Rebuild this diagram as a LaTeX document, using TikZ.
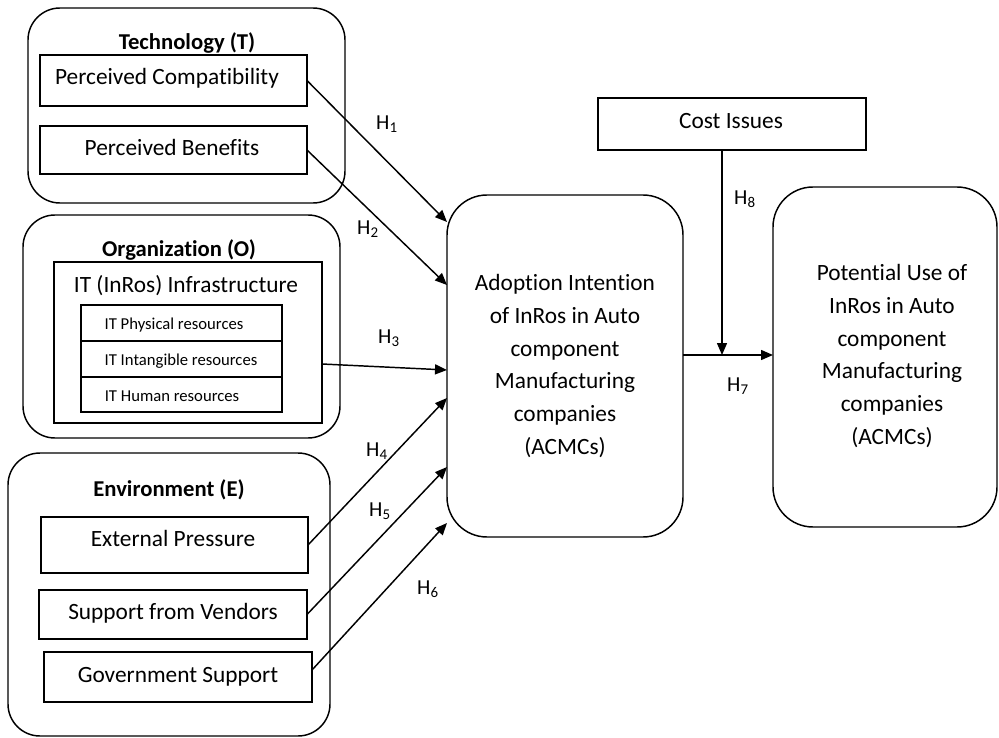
\documentclass[tikz,border=0pt]{standalone}
\usepackage{fontspec}
\setmainfont{Carlito}[Ligatures=NoCommon]
\usetikzlibrary{arrows.meta,fit}
\tikzset{
  box/.style={draw, line width=1.1pt, inner sep=0pt, outer sep=0pt},
  grp/.style={draw, line width=1.1pt, inner sep=0pt, outer sep=0pt, rounded corners=24pt},
  bigr/.style={draw, line width=1.1pt, inner sep=0pt, outer sep=0pt, rounded corners=30pt},
  txt/.style={font=\fontsize{17.5}{24.5}\selectfont, inner sep=0pt, anchor=mid, yshift=-2.5pt},
  ttl/.style={font=\fontsize{17}{24.5}\selectfont\bfseries, inner sep=0pt, anchor=mid, yshift=-2.5pt},
  smalltxt/.style={font=\fontsize{12.5}{15}\selectfont, inner sep=0pt, anchor=mid, yshift=-1.5pt},
  mtxt/.style={font=\fontsize{17.5}{24.5}\selectfont, inner sep=0pt, align=center},
  hl/.style={font=\fontsize{16}{20}\selectfont, inner sep=0pt},
  arr/.style={line width=1.1pt, -{Triangle[length=9pt,width=7.5pt]}},
}
\begin{document}
\begin{tikzpicture}[x=0.75pt,y=-0.75pt]
\useasboundingbox (0,0) rectangle (999,738);
% groups
\node[grp, fit={(28,8)(345,203)}] (tech) {};
\node[grp, fit={(23,215)(340,438)}] (org) {};
\node[grp, fit={(8,453)(330,736)}] (env) {};
% technology
\node[ttl] (ttech) at (187,43) {Technology (T)};
\node[box, fit={(40,55)(307,106)}] (pc) {};
\node[txt] (tpc) at (167,78) {Perceived Compatibility};
\node[box, fit={(40,126)(307,174)}] (pb) {};
\node[txt] (tpb) at (172,149) {Perceived Benefits};
% organization
\node[ttl] (torg) at (179,250) {Organization (O)};
\node[box, fit={(54,262)(322,423)}] (infra) {};
\node[txt] (tinfra) at (186,286) {IT (InRos) Infrastructure};
\node[box, fit={(81,305)(282,341)}] (phys) {};
\node[smalltxt] (tphys) at (174,324) {IT Physical resources};
\node[box, fit={(81,341)(282,377)}] (intan) {};
\node[smalltxt] (tintan) at (181,360) {IT Intangible resources};
\node[box, fit={(81,377)(282,412)}] (human) {};
\node[smalltxt] (thuman) at (172,396) {IT Human resources};
% environment
\node[ttl] (tenv) at (169,490) {Environment (E)};
\node[box, fit={(41,517)(308,573)}] (extp) {};
\node[txt] (textp) at (173,540) {External Pressure};
\node[box, fit={(39,590)(307,639)}] (sfv) {};
\node[txt] (tsfv) at (173,613) {Support from Vendors};
\node[box, fit={(44,652)(312,702)}] (gov) {};
\node[txt] (tgov) at (178,676) {Government Support};
% right side
\node[bigr, fit={(447,195)(683,537)}] (ad) {};
\node[mtxt] (tad) at (565,366) {Adoption Intention\\of InRos in Auto\\component\\Manufacturing\\companies\\(ACMCs)};
\node[box, fit={(598,98)(866,150)}] (cost) {};
\node[txt] (tcost) at (731,122) {Cost Issues};
\node[bigr, fit={(773,187)(997,527)}] (pot) {};
\node[mtxt] (tpot) at (892,356) {Potential Use of\\InRos in Auto\\component\\Manufacturing\\companies\\(ACMCs)};
% connectors
\draw[arr] (pc.east) -- (ad.west |- 0,222);
\draw[arr] (pb.east) -- (ad.west |- 0,285);
\draw[arr] (infra.east |- 0,364) -- (ad.west |- 0,370);
\draw[arr] (extp.east) -- (ad.west |- 0,398);
\draw[arr] (sfv.east) -- (ad.west |- 0,467);
\draw[arr] (gov.east |- 0,670) -- (ad.west |- 0,523);
\draw[arr] (ad.east |- 0,355) -- (pot.west |- 0,355);
\coordinate (j) at (722,355);
\draw[arr] (cost.south -| j) -- (j);
% labels
\node[hl] (h1) at (387,124) {H\textsubscript{1}};
\node[hl] (h2) at (368,229) {H\textsubscript{2}};
\node[hl] (h3) at (389,338) {H\textsubscript{3}};
\node[hl] (h4) at (377,451) {H\textsubscript{4}};
\node[hl] (h5) at (380,511) {H\textsubscript{5}};
\node[hl] (h6) at (428,589) {H\textsubscript{6}};
\node[hl] (h7) at (738,386) {H\textsubscript{7}};
\node[hl] (h8) at (745,199) {H\textsubscript{8}};
\end{tikzpicture}
\end{document}
